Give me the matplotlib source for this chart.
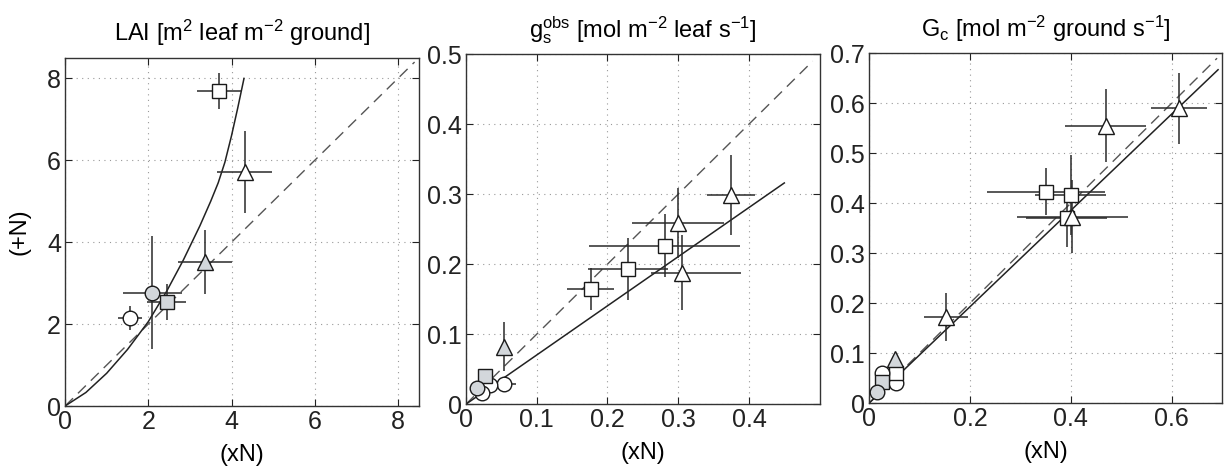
import matplotlib
matplotlib.use('Agg')
import matplotlib.pyplot as plt

plt.rcParams['font.family'] = ['Liberation Sans', 'DejaVu Sans']
plt.rcParams['mathtext.default'] = 'regular'

GRAY = '#d3d7db'

# ---- panel 1: LAI ----
lai_x = [3.70, 4.32, 3.36, 2.10, 2.44, 1.56]
lai_y = [7.69, 5.72, 3.52, 2.77, 2.54, 2.15]
lai_xerr = [0.54, 0.66, 0.64, 0.70, 0.47, 0.28]
lai_yerr = [0.44, 1.00, 0.78, 1.37, 0.45, 0.29]
lai_mk = ['s', '^', '^', 'o', 's', 'o']
lai_fill = ['white', 'white', GRAY, GRAY, GRAY, 'white']
lai_fit_x = [0, 0.5, 1.0, 1.5, 2.0, 2.44, 2.84, 3.24, 3.5, 3.68, 3.84, 4.0, 4.15, 4.30]
lai_fit_y = [0, 0.33, 0.80, 1.38, 2.06, 2.80, 3.56, 4.40, 5.00, 5.45, 5.95, 6.60, 7.28, 8.0]

# ---- panel 2: gs obs ----
gs_x = [0.374, 0.300, 0.306, 0.281, 0.229, 0.176, 0.054, 0.053, 0.034, 0.022, 0.027, 0.016]
gs_y = [0.299, 0.259, 0.188, 0.226, 0.193, 0.165, 0.082, 0.029, 0.028, 0.016, 0.040, 0.023]
gs_xerr_lo = [0.034, 0.065, 0.045, 0.107, 0.056, 0.033, 0, 0.0, 0, 0, 0, 0]
gs_xerr_hi = [0.034, 0.065, 0.083, 0.107, 0.056, 0.033, 0, 0.018, 0, 0, 0, 0]
gs_yerr = [0.057, 0.050, 0.054, 0.045, 0.044, 0.030, 0.035, 0, 0, 0, 0, 0]
gs_mk = ['^', '^', '^', 's', 's', 's', '^', 'o', 'o', 'o', 's', 'o']
gs_fill = ['white', 'white', 'white', 'white', 'white', 'white', GRAY, 'white', 'white', 'white', GRAY, GRAY]
gs_fit_x = [0, 0.45]
gs_fit_y = [0, 0.316]

# ---- panel 3: Gc ----
gc_x = [0.615, 0.469, 0.351, 0.400, 0.392, 0.403, 0.153, 0.054, 0.054, 0.026, 0.052, 0.026, 0.016]
gc_y = [0.590, 0.555, 0.423, 0.417, 0.370, 0.373, 0.173, 0.040, 0.060, 0.060, 0.088, 0.042, 0.022]
gc_xerr = [0.056, 0.081, 0.117, 0.070, 0.080, 0.110, 0.044, 0, 0, 0, 0, 0, 0]
gc_yerr = [0.071, 0.073, 0.047, 0.080, 0.058, 0.073, 0.048, 0, 0, 0, 0, 0, 0]
gc_mk = ['^', '^', 's', 's', 's', '^', '^', 'o', 's', 'o', '^', 's', 'o']
gc_fill = ['white', 'white', 'white', 'white', 'white', 'white', 'white', 'white', 'white', 'white', GRAY, GRAY, GRAY]
gc_fit_x = [0, 0.692]
gc_fit_y = [0, 0.667]

titles = ['LAI [m$^2$ leaf m$^{-2}$ ground]',
          'g$_s^{obs}$ [mol m$^{-2}$ leaf s$^{-1}$]',
          'G$_c$ [mol m$^{-2}$ ground s$^{-1}$]']

fig = plt.figure(figsize=(12.28, 4.71), dpi=100)
boxes = [[0.053, 0.138, 0.288, 0.739],
         [0.3795, 0.142, 0.288, 0.743],
         [0.7077, 0.144, 0.2875, 0.743]]
axs = [fig.add_axes(b) for b in boxes]


def draw_points(ax, xs, ys, xlo, xhi, ye, mks, fills):
    for i in range(len(xs)):
        if xlo[i] > 0 or xhi[i] > 0 or ye[i] > 0:
            ax.errorbar(xs[i], ys[i], xerr=[[xlo[i]], [xhi[i]]], yerr=ye[i],
                        fmt='none', ecolor='#2a2a2a', elinewidth=1.1, capsize=0, zorder=3)
    sizes = {'^': 12, 's': 9.5, 'o': 10.5}
    for i in range(len(xs)):
        ax.plot(xs[i], ys[i], marker=mks[i], ms=sizes[mks[i]], mfc=fills[i], mec='#1a1a1a',
                mew=1.0, ls='none', zorder=4)


# panel 1
ax = axs[0]
ax.plot([0, 8.4], [0, 8.4], ls=(0, (8, 5)), color='#555555', lw=1.0, zorder=2)
ax.plot(lai_fit_x, lai_fit_y, color='#222222', lw=1.1, zorder=2)
draw_points(ax, lai_x, lai_y, lai_xerr, lai_xerr, lai_yerr, lai_mk, lai_fill)
ax.set_xlim(0, 8.5)
ax.set_ylim(0, 8.5)
ax.set_xticks([0, 2, 4, 6, 8])
ax.set_yticks([0, 2, 4, 6, 8])
ax.set_ylabel('(+N)', fontsize=17, labelpad=12)

# panel 2
ax = axs[1]
ax.plot([0, 0.49], [0, 0.49], ls=(0, (8, 5)), color='#555555', lw=1.0, zorder=2)
ax.plot(gs_fit_x, gs_fit_y, color='#222222', lw=1.1, zorder=2)
draw_points(ax, gs_x, gs_y, gs_xerr_lo, gs_xerr_hi, gs_yerr, gs_mk, gs_fill)
ax.set_xlim(0, 0.5)
ax.set_ylim(0, 0.5)
ax.set_xticks([0, 0.1, 0.2, 0.3, 0.4])
ax.set_xticklabels(['0', '0.1', '0.2', '0.3', '0.4'])
ax.set_yticks([0, 0.1, 0.2, 0.3, 0.4, 0.5])
ax.set_yticklabels(['0', '0.1', '0.2', '0.3', '0.4', '0.5'])

# panel 3
ax = axs[2]
ax.plot([0, 0.69], [0, 0.69], ls=(0, (8, 5)), color='#555555', lw=1.0, zorder=2)
ax.plot(gc_fit_x, gc_fit_y, color='#222222', lw=1.1, zorder=2)
draw_points(ax, gc_x, gc_y, gc_xerr, gc_xerr, gc_yerr, gc_mk, gc_fill)
ax.set_xlim(0, 0.7)
ax.set_ylim(0, 0.7)
ax.set_xticks([0, 0.2, 0.4, 0.6])
ax.set_xticklabels(['0', '0.2', '0.4', '0.6'])
ax.set_yticks([0, 0.1, 0.2, 0.3, 0.4, 0.5, 0.6, 0.7])
ax.set_yticklabels(['0', '0.1', '0.2', '0.3', '0.4', '0.5', '0.6', '0.7'])

for ax, t in zip(axs, titles):
    ax.set_title(t, fontsize=17, pad=12)
    ax.set_xlabel('(xN)', fontsize=17, labelpad=7)
    ax.grid(True, ls=(0, (1, 4)), color='#999999', lw=0.8)
    ax.set_axisbelow(True)
    ax.tick_params(direction='in', top=True, right=True, length=5, width=0.8,
                   labelsize=18, colors='#222222', pad=3)
    for s in ax.spines.values():
        s.set_color('#333333')
        s.set_linewidth(1.0)

fig.savefig('out.png', dpi=100)
